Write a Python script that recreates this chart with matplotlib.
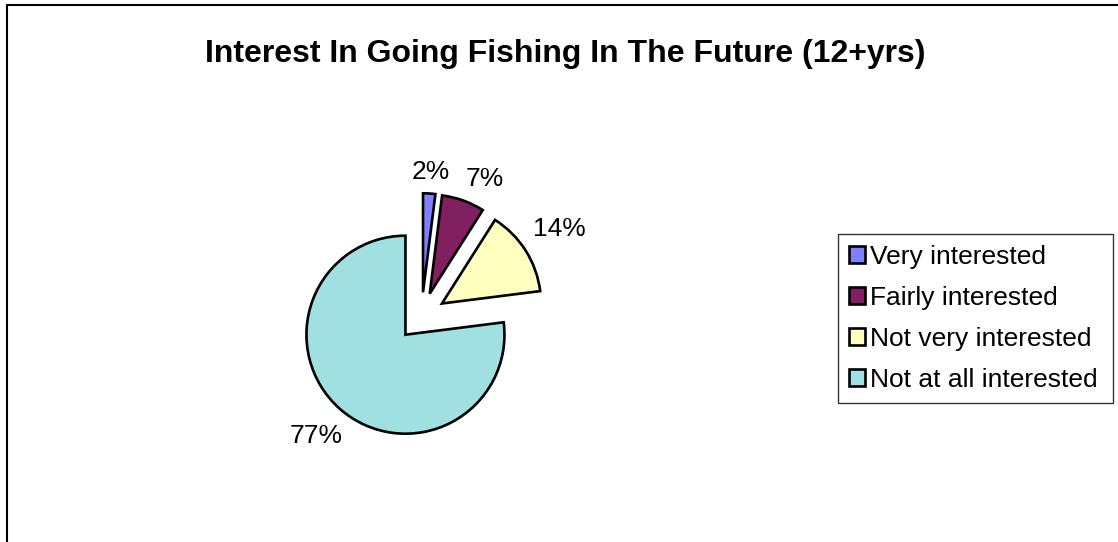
"""Pie chart of interest in going fishing in the future (ages 12+)."""
import numpy as np
import matplotlib
matplotlib.use('Agg')
import matplotlib.pyplot as plt
from matplotlib.lines import Line2D

# Survey shares (%)
categories = ['Very interested', 'Fairly interested', 'Not very interested', 'Not at all interested']
shares = [2, 7, 14, 77]
colors = ['#8080FF', '#802060', '#FFFFC0', '#A0E0E0']
explode = [0.245, 0.245, 0.245, 0.245]

title = 'Interest In Going Fishing In The Future (12+yrs)'

W, H, DPI = 1118, 542, 100
CX, CY, R = 421.5, 316.5, 99   # pie centre and radius in pixels
LABEL_GAP = 13                 # px between wedge arc and nearest edge of its label
LABEL_SEP = 16                 # min px between neighbouring labels

plt.rcParams['font.family'] = ['Liberation Sans', 'DejaVu Sans']

fig = plt.figure(figsize=(W / DPI, H / DPI), dpi=DPI)
ax = fig.add_axes([0, 0, 1, 1])

wedges, _ = ax.pie(
    shares,
    colors=colors,
    explode=explode,
    startangle=90,
    counterclock=False,
    radius=1.0,
    wedgeprops=dict(edgecolor='black', linewidth=1.9),
)

# one data unit == R pixels, pie centre at (CX, CY) from the top-left
ax.set_xlim(-CX / R, (W - CX) / R)
ax.set_ylim(-(H - CY) / R, CY / R)
ax.set_aspect('auto')
ax.axis('off')


def place_label(angle, hw, hh, r_out):
    """Push a label box out along `angle` until it clears the arc."""
    d = np.array([np.cos(angle), np.sin(angle)])
    dist = r_out
    while True:
        c = d * dist
        nx = max(abs(c[0]) - hw, 0)
        ny = max(abs(c[1]) - hh, 0)
        if np.hypot(nx, ny) >= r_out + LABEL_GAP:
            return c
        dist += 0.5


def overlaps(c1, h1, c2, h2):
    return (abs(c1[0] - c2[0]) < h1[0] + h2[0] + LABEL_SEP and
            abs(c1[1] - c2[1]) < h1[1] + h2[1])


# percentage labels, nudged clockwise when they would crowd the previous one
renderer = fig.canvas.get_renderer()
cum = np.cumsum([0] + shares[:-1])
placed = []
for share, start, ex in zip(shares, cum, explode):
    angle = np.deg2rad(90 - 360 * (start + share / 2) / sum(shares))
    t = ax.text(0, 0, f'{share}%', ha='center', va='center', fontsize=19)
    bb = t.get_window_extent(renderer)
    half = (bb.width / 2, bb.height * 0.35)
    r_out = (1 + ex) * R
    c = place_label(angle, half[0], half[1], r_out)
    while placed and overlaps(c, half, *placed[-1]):
        angle -= np.deg2rad(0.5)
        c = place_label(angle, half[0], half[1], r_out)
    placed.append((c, half))
    t.set_position(c / R)

fig.text(565 / W, 1 - 54 / H, title, ha='center', va='center',
         fontsize=23, fontweight='bold')

leg = fig.legend(
    wedges, categories,
    loc='upper left',
    bbox_to_anchor=(838 / W, 1 - 400 / H, 275 / W, 166 / H),
    mode='expand',
    fontsize=19,
    frameon=True,
    fancybox=False,
    edgecolor='black',
    handlelength=0.6,
    handleheight=0.6,
    handletextpad=0.18,
    labelspacing=0.64,
    borderpad=0.42,
    borderaxespad=0,
)
leg.get_frame().set_linewidth(1.0)

# chart area outline (left and top edges)
x0, y0 = 7 / W, 1 - 5 / H
fig.add_artist(Line2D([x0, x0, 1], [0, y0, y0], color='black', linewidth=1.5))

fig.savefig('out.png', dpi=DPI)
